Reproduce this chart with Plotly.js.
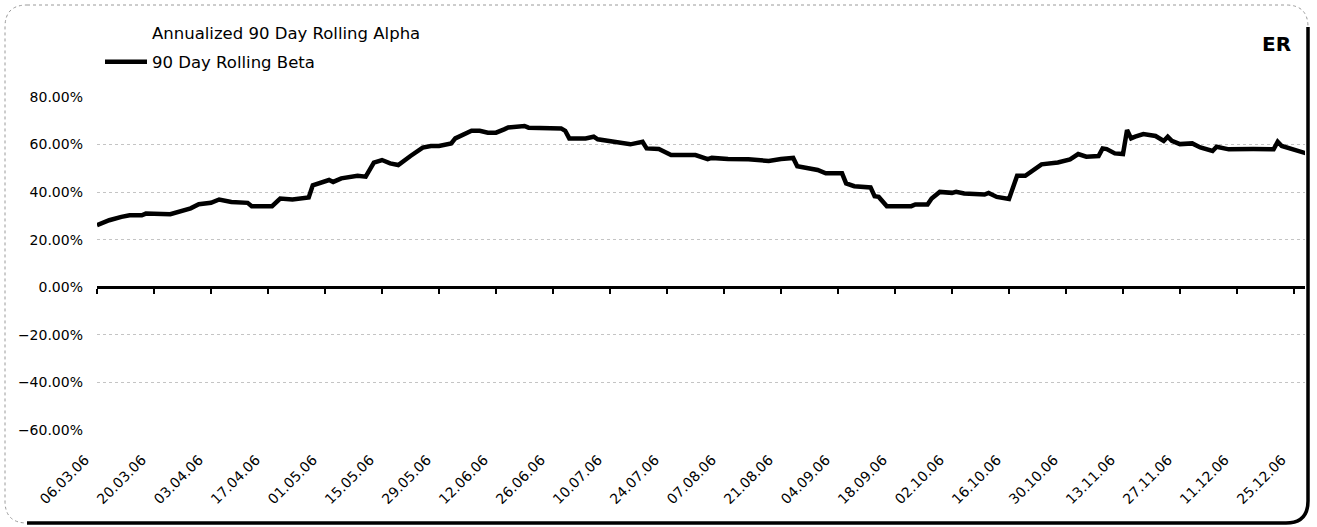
<!DOCTYPE html>
<html>
<head>
<meta charset="utf-8">
<script src="https://cdn.plot.ly/plotly-3.0.1.min.js"></script>
<style>html,body{margin:0;padding:0;background:#fff;}#chart{width:1317px;height:527px;}</style>
</head>
<body>
<div id="chart"></div>
<script>
// ---- data ----
const betaDates = ['2006-03-06','2006-03-09','2006-03-12','2006-03-14','2006-03-17','2006-03-18','2006-03-24','2006-03-26','2006-03-29','2006-03-31',
'2006-04-03','2006-04-05','2006-04-08','2006-04-12','2006-04-13','2006-04-18','2006-04-20','2006-04-23','2006-04-27','2006-04-28',
'2006-05-02','2006-05-03','2006-05-05','2006-05-09','2006-05-11','2006-05-13','2006-05-15','2006-05-17','2006-05-19','2006-05-22','2006-05-25','2006-05-27','2006-05-29',
'2006-06-01','2006-06-02','2006-06-06','2006-06-08','2006-06-10','2006-06-12','2006-06-14','2006-06-15','2006-06-19','2006-06-20','2006-06-28','2006-06-29','2006-06-30',
'2006-07-04','2006-07-06','2006-07-07','2006-07-11','2006-07-15','2006-07-18','2006-07-19','2006-07-22','2006-07-25','2006-07-31',
'2006-08-03','2006-08-04','2006-08-08','2006-08-13','2006-08-18','2006-08-21','2006-08-24','2006-08-25','2006-08-28','2006-08-30',
'2006-09-01','2006-09-05','2006-09-06','2006-09-08','2006-09-12','2006-09-13','2006-09-14','2006-09-16','2006-09-22','2006-09-23','2006-09-26','2006-09-27','2006-09-29',
'2006-10-02','2006-10-03','2006-10-05','2006-10-10','2006-10-11','2006-10-13','2006-10-16','2006-10-18','2006-10-20','2006-10-24','2006-10-28','2006-10-31',
'2006-11-02','2006-11-04','2006-11-07','2006-11-08','2006-11-09','2006-11-11','2006-11-13','2006-11-14','2006-11-15','2006-11-16','2006-11-18','2006-11-21','2006-11-23','2006-11-24','2006-11-25','2006-11-27','2006-11-30',
'2006-12-02','2006-12-05','2006-12-06','2006-12-09','2006-12-15','2006-12-20','2006-12-21','2006-12-22','2006-12-28'];
const betaValues = [0.261,0.282,0.296,0.303,0.303,0.310,0.307,0.317,0.332,0.349,
0.355,0.369,0.359,0.355,0.341,0.341,0.373,0.369,0.378,0.429,
0.451,0.443,0.458,0.469,0.465,0.524,0.535,0.521,0.514,0.552,0.587,0.594,0.594,
0.605,0.626,0.658,0.658,0.650,0.650,0.664,0.672,0.678,0.671,0.668,0.658,0.626,
0.626,0.633,0.622,0.612,0.601,0.612,0.584,0.581,0.556,0.556,
0.539,0.544,0.539,0.538,0.531,0.539,0.544,0.509,0.502,0.493,
0.479,0.479,0.437,0.425,0.420,0.383,0.380,0.341,0.341,0.348,0.348,0.373,0.401,
0.397,0.401,0.394,0.390,0.397,0.380,0.371,0.469,0.469,0.517,0.525,0.538,
0.560,0.549,0.552,0.584,0.581,0.563,0.560,0.661,0.626,0.633,0.644,0.636,0.615,0.633,0.616,0.602,0.605,
0.588,0.573,0.591,0.580,0.581,0.580,0.612,0.594,0.563];
// The alpha series is drawn in white in the original and cannot be read: no values are given.
const alphaDates = ['2006-03-06'];
const alphaValues = [null];
const tickDates = ['2006-03-06','2006-03-20','2006-04-03','2006-04-17','2006-05-01','2006-05-15','2006-05-29','2006-06-12','2006-06-26','2006-07-10','2006-07-24','2006-08-07','2006-08-21','2006-09-04','2006-09-18','2006-10-02','2006-10-16','2006-10-30','2006-11-13','2006-11-27','2006-12-11','2006-12-25'];
const tickLabels = ['06.03.06','20.03.06','03.04.06','17.04.06','01.05.06','15.05.06','29.05.06','12.06.06','26.06.06','10.07.06','24.07.06','07.08.06','21.08.06','04.09.06','18.09.06','02.10.06','16.10.06','30.10.06','13.11.06','27.11.06','11.12.06','25.12.06'];
const seriesNames = ['Annualized 90 Day Rolling Alpha','90 Day Rolling Beta'];
const cornerLabel = 'ER';

// ---- geometry helpers (pixel -> paper) ----
const PL = 97, PR = 1305, PT = 97, PB = 430;
const px = x => (x - PL) / (PR - PL);
const py = y => (PB - y) / (PB - PT);
const yMin = -0.6, yMax = 0.8;
const xRange = ['2006-03-06', '2006-12-27 17:00'];
const FONT = 'DejaVu Sans';

const fl = 5, ft = 5, fr = 1308, fb = 523, rad = 22;
const grayPath = `M${px(fl+rad)},${py(ft)} L${px(fr-rad)},${py(ft)} Q${px(fr)},${py(ft)} ${px(fr)},${py(ft+rad)} L${px(fr)},${py(fb-rad)} Q${px(fr)},${py(fb)} ${px(fr-rad)},${py(fb)} L${px(fl+rad)},${py(fb)} Q${px(fl)},${py(fb)} ${px(fl)},${py(fb-rad)} L${px(fl)},${py(ft+rad)} Q${px(fl)},${py(ft)} ${px(fl+rad)},${py(ft)} Z`;
const blackPath = `M${px(fr)},${py(ft+rad)} L${px(fr)},${py(fb-rad)} Q${px(fr)},${py(fb)} ${px(fr-rad)},${py(fb)} L${px(fl+rad)},${py(fb)}`;

const traces = [
  {x: alphaDates, y: alphaValues, xaxis: 'x2', yaxis: 'y', type: 'scatter', mode: 'lines', name: seriesNames[0],
   line: {color: 'rgba(255,255,255,0)', width: 4}, legendgroup: 'a'},
  {x: betaDates, y: betaValues, xaxis: 'x', yaxis: 'y', type: 'scatter', mode: 'lines', name: seriesNames[1],
   line: {color: '#000', width: 4.5}, legendgroup: 'b'}
];

const layout = {
  width: 1317, height: 527,
  margin: {l: PL, r: 1317 - PR, t: PT, b: 527 - PB},
  paper_bgcolor: '#fff', plot_bgcolor: 'rgba(0,0,0,0)',
  font: {family: FONT, size: 14, color: '#000'},
  showlegend: true,
  legend: {x: px(100), xanchor: 'left', y: py(15), yanchor: 'top', bgcolor: 'rgba(0,0,0,0)',
           font: {family: FONT, size: 16.5, color: '#000'}, traceorder: 'grouped', tracegroupgap: 5, itemwidth: 42},
  xaxis: {type: 'date', range: xRange, anchor: 'free', position: (0 - yMin) / (yMax - yMin),
          showline: true, linecolor: '#000', linewidth: 2.5, ticks: 'outside', ticklen: 5, tickwidth: 2.5, tickcolor: '#000',
          tickmode: 'array', tickvals: tickDates, ticktext: tickLabels, showticklabels: false, showgrid: false, zeroline: false, automargin: false, layer: 'below traces'},
  xaxis2: {type: 'date', range: xRange, overlaying: 'x', anchor: 'y', side: 'bottom',
           tickmode: 'array', tickvals: tickDates, ticktext: tickLabels, tickangle: -45, ticks: '', showline: false, showgrid: false, zeroline: false,
           ticklabelstandoff: 18, ticklabelshift: -12,
           tickfont: {family: FONT, size: 14, color: '#000'}, automargin: false},
  yaxis: {range: [yMin, yMax], tickmode: 'linear', tick0: 0, dtick: 0.2, tickformat: '.2%', showline: false, ticks: '',
          showgrid: true, gridcolor: '#c4c4c4', griddash: 'dot', gridwidth: 1, zeroline: false,
          tickfont: {family: FONT, size: 14, color: '#000'}, ticklabelstandoff: 13, automargin: false},
  annotations: [{text: '<b>' + cornerLabel + '</b>', xref: 'paper', yref: 'paper', x: px(1293), y: py(44), xanchor: 'right', yanchor: 'middle',
                 showarrow: false, font: {family: FONT, size: 20, color: '#000'}}],
  shapes: [
    {type: 'path', xref: 'paper', yref: 'paper', path: grayPath, line: {color: '#9a9a9a', width: 1, dash: 'dot'}, layer: 'below'},
    {type: 'path', xref: 'paper', yref: 'paper', path: blackPath, line: {color: '#000', width: 3.5}, layer: 'above'}
  ]
};

Plotly.newPlot('chart', traces, layout, {staticPlot: true, displayModeBar: false});
</script>
</body>
</html>
